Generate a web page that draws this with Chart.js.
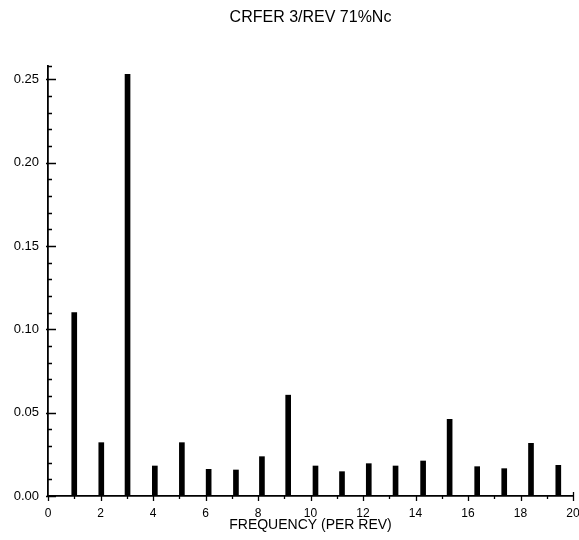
<!DOCTYPE html>
<html>
<head>
<meta charset="utf-8">
<script src="https://cdn.jsdelivr.net/npm/chart.js@4.4.1/dist/chart.umd.min.js"></script>
<style>
  html, body { margin: 0; padding: 0; background: #fff; }
  #wrap { width: 579px; height: 540px; position: relative; }
</style>
</head>
<body>
<div id="wrap"><canvas id="c" width="579" height="540"></canvas></div>
<script>
// Harmonic spectrum: frequency (per rev) and amplitude of each peak
const frequencies = [1.0, 2.03, 3.03, 4.07, 5.1, 6.12, 7.16, 8.15, 9.15, 10.19,
                     11.2, 12.22, 13.24, 14.29, 15.3, 16.35, 17.38, 18.4, 19.44];
const amplitudes  = [0.110, 0.032, 0.253, 0.018, 0.032, 0.016, 0.0156, 0.0236, 0.0605, 0.018,
                     0.0146, 0.0194, 0.018, 0.021, 0.046, 0.0176, 0.0164, 0.0316, 0.0184];

const xTickValues = [0, 2, 4, 6, 8, 10, 12, 14, 16, 18, 20];
const yTickValues = [0.00, 0.05, 0.10, 0.15, 0.20, 0.25];

const titleText = 'CRFER 3/REV 71%Nc';
const xAxisTitle = 'FREQUENCY (PER REV)';

const points = frequencies.map((f, i) => ({ x: f, y: amplitudes[i] }));

const FONT = "'Liberation Sans', Arial, Helvetica, sans-serif";

// Draws the inward y ticks (major + minor), the outward x ticks and the axis end caps
const axisTicks = {
  id: 'axisTicks',
  afterDraw(chart) {
    const { ctx, scales: { x, y }, chartArea: a } = chart;
    ctx.save();
    ctx.strokeStyle = '#000';
    ctx.lineWidth = 1.3;
    ctx.beginPath();
    // y axis: minor every 0.01, major every 0.05, pointing into the plot
    for (let k = 0; k <= 25; k++) {
      const v = k / 100;
      const py = Math.round(y.getPixelForValue(v)) + 0.5;
      const major = k % 5 === 0;
      ctx.moveTo(a.left - (major ? 2 : 0), py);
      ctx.lineTo(a.left + (major ? 8 : 4), py);
    }
    // top cap of the y axis
    ctx.moveTo(a.left, a.top + 0.5);
    ctx.lineTo(a.left + 4, a.top + 0.5);
    // x axis: major at even, minor at odd, pointing down
    for (let v = 0; v <= 20; v++) {
      const px = Math.round(x.getPixelForValue(v)) + 0.5;
      const major = v % 2 === 0;
      ctx.moveTo(px, a.bottom);
      ctx.lineTo(px, a.bottom + (major ? 5 : 3));
    }
    // right end cap of the x axis
    const xr = Math.round(x.getPixelForValue(20)) + 0.5;
    ctx.moveTo(xr, a.bottom - 4);
    ctx.lineTo(xr, a.bottom);
    ctx.stroke();
    ctx.restore();
  }
};

new Chart(document.getElementById('c'), {
  type: 'bar',
  data: {
    datasets: [{
      data: points,
      backgroundColor: '#000',
      borderWidth: 0,
      barThickness: 5
    }]
  },
  options: {
    responsive: false,
    animation: false,
    events: [],
    layout: { padding: { left: 0, right: 6, top: 0, bottom: 0 } },
    plugins: {
      legend: { display: false },
      tooltip: { enabled: false },
      title: {
        display: true,
        fullSize: false,
        text: titleText,
        color: '#000',
        font: { family: FONT, size: 16, weight: 'normal', lineHeight: 1.2 },
        padding: { top: 8, bottom: 38.8 }
      }
    },
    scales: {
      x: {
        type: 'linear',
        min: 0,
        max: 20,
        offset: false,
        afterFit(s) { s.height = 44; s.paddingLeft = 0; s.paddingRight = 0; },
        afterBuildTicks(s) { s.ticks = xTickValues.map(v => ({ value: v })); },
        ticks: {
          color: '#000',
          font: { family: FONT, size: 12 },
          padding: 10,
          maxRotation: 0,
          autoSkip: false,
          callback: v => String(v)
        },
        grid: { display: false, drawTicks: false },
        border: { display: true, color: '#000', width: 1.8 },
        title: {
          display: true,
          text: xAxisTitle,
          color: '#000',
          font: { family: FONT, size: 14, weight: 'normal', lineHeight: 1.2 },
          padding: { top: 0, bottom: 6 }
        }
      },
      y: {
        type: 'linear',
        min: 0,
        max: 0.258,
        afterFit(s) { s.width = 48; },
        afterBuildTicks(s) { s.ticks = yTickValues.map(v => ({ value: v })); },
        ticks: {
          color: '#000',
          font: { family: FONT, size: 13 },
          padding: 9,
          callback: v => Number(v).toFixed(2)
        },
        grid: { display: false, drawTicks: false },
        border: { display: true, color: '#000', width: 1.8 }
      }
    }
  },
  plugins: [axisTicks]
});
</script>
</body>
</html>
